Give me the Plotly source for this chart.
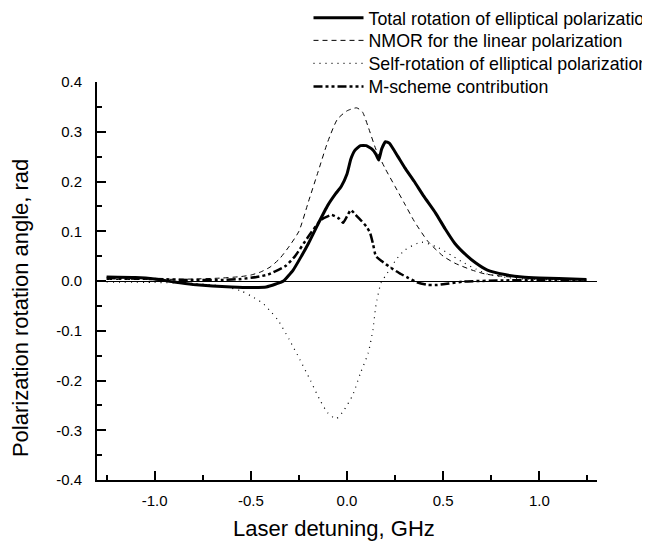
import plotly.graph_objects as go

# ---- data ----
total_x = [-1.25, -1.1, -1.0, -0.9, -0.8, -0.7, -0.6, -0.5, -0.42, -0.37, -0.33, -0.28, -0.24, -0.20,
           -0.15, -0.10, -0.06, -0.03, 0.0, 0.02, 0.04, 0.07, 0.10, 0.13, 0.15, 0.165, 0.18, 0.20,
           0.22, 0.265, 0.30, 0.35, 0.40, 0.46, 0.51, 0.56, 0.62, 0.67, 0.73, 0.82, 0.91, 1.0, 1.1, 1.245]
total_y = [0.008, 0.007, 0.004, -0.002, -0.007, -0.010, -0.012, -0.013, -0.012, -0.006, 0.0, 0.022,
           0.048, 0.076, 0.115, 0.152, 0.175, 0.19, 0.215, 0.245, 0.262, 0.272, 0.272, 0.265, 0.255,
           0.243, 0.265, 0.28, 0.277, 0.25, 0.228, 0.20, 0.17, 0.137, 0.105, 0.076, 0.052, 0.036,
           0.022, 0.013, 0.008, 0.006, 0.005, 0.003]

nmor_x = [-1.25, -1.0, -0.8, -0.65, -0.55, -0.5, -0.45, -0.40, -0.35, -0.30, -0.25, -0.20, -0.15,
          -0.10, -0.05, 0.0, 0.05, 0.08, 0.11, 0.15, 0.20, 0.25, 0.30, 0.35, 0.42, 0.50, 0.56, 0.65,
          0.72, 0.85, 1.0, 1.245]
nmor_y = [0.003, 0.003, 0.004, 0.006, 0.009, 0.012, 0.018, 0.028, 0.045, 0.07, 0.10, 0.16, 0.22,
          0.28, 0.325, 0.342, 0.348, 0.34, 0.31, 0.265, 0.225, 0.19, 0.155, 0.12, 0.08, 0.05, 0.036,
          0.022, 0.014, 0.008, 0.005, 0.003]

self_x = [-1.25, -1.0, -0.8, -0.65, -0.55, -0.50, -0.44, -0.40, -0.36, -0.30, -0.245, -0.19, -0.14,
          -0.10, -0.057, -0.02, 0.03, 0.07, 0.11, 0.135, 0.15, 0.177, 0.21, 0.25, 0.30, 0.385, 0.47,
          0.55, 0.61, 0.67, 0.73, 0.85, 1.0, 1.245]
self_y = [-0.002, -0.003, -0.005, -0.01, -0.02, -0.03, -0.044, -0.06, -0.078, -0.118, -0.158, -0.20,
          -0.24, -0.265, -0.277, -0.262, -0.229, -0.185, -0.145, -0.098, -0.05, -0.004, 0.016, 0.04,
          0.062, 0.078, 0.068, 0.05, 0.036, 0.024, 0.014, 0.006, 0.003, 0.002]

m_x = [-1.25, -1.0, -0.8, -0.65, -0.55, -0.47, -0.41, -0.32, -0.27, -0.20, -0.135, -0.08, -0.04,
       -0.02, 0.0, 0.02, 0.045, 0.07, 0.10, 0.12, 0.135, 0.15, 0.18, 0.23, 0.28, 0.32, 0.36, 0.42,
       0.47, 0.53, 0.61, 0.8, 1.0, 1.245]
m_y = [0.006, 0.004, 0.002, 0.002, 0.004, 0.008, 0.013, 0.03, 0.05, 0.09, 0.123, 0.133, 0.125,
       0.117, 0.13, 0.143, 0.133, 0.123, 0.11, 0.097, 0.075, 0.05, 0.04, 0.026, 0.014, 0.006,
       -0.002, -0.008, -0.008, -0.005, -0.001, 0.001, 0.002, 0.002]

names = ["Total rotation of elliptical polarization",
         "NMOR for the linear polarization",
         "Self-rotation of elliptical polarization",
         "M-scheme contribution"]

x_tickvals = [-1.0, -0.5, 0.0, 0.5, 1.0]
x_ticktext = ["-1.0", "-0.5", "0.0", "0.5", "1.0"]
y_tickvals = [-0.4, -0.3, -0.2, -0.1, 0.0, 0.1, 0.2, 0.3, 0.4]
y_ticktext = ["-0.4", "-0.3", "-0.2", "-0.1", "0.0", "0.1", "0.2", "0.3", "0.4"]
x_title = "Laser detuning, GHz"
y_title = "Polarization rotation angle, rad"

FONT = "Liberation Sans, Arial, sans-serif"
LEG_FONT = 17.8

fig = go.Figure()
fig.add_trace(go.Scatter(x=total_x, y=total_y, mode="lines", name=names[0], legend="legend",
                         line=dict(color="black", width=3, shape="spline", smoothing=0.4)))
fig.add_trace(go.Scatter(x=nmor_x, y=nmor_y, mode="lines", name=names[1], legend="legend2",
                         line=dict(color="black", width=1, dash="5px,4px", shape="spline", smoothing=0.6)))
fig.add_trace(go.Scatter(x=self_x, y=self_y, mode="lines", name=names[2], legend="legend3",
                         line=dict(color="black", width=1.2, dash="1px,5px", shape="spline", smoothing=0.6)))
fig.add_trace(go.Scatter(x=m_x, y=m_y, mode="lines", name=names[3], legend="legend4",
                         line=dict(color="black", width=2.5, dash="9px,3px,3px,3px,3px,3px",
                                   shape="spline", smoothing=0.4)))

axis_common = dict(showline=True, linecolor="black", linewidth=2, mirror=False,
                   ticks="inside", ticklen=9, tickwidth=2, tickcolor="black",
                   showgrid=False, tickfont=dict(size=15, family=FONT))


def leg(ypos):
    return dict(x=0.423, y=ypos, xanchor="left", yanchor="top",
                bgcolor="rgba(0,0,0,0)", font=dict(size=LEG_FONT, family=FONT),
                itemwidth=50, tracegroupgap=0)


fig.update_layout(
    width=650, height=544,
    margin=dict(l=89, r=61, t=74, b=72, autoexpand=False),
    paper_bgcolor="white", plot_bgcolor="white",
    font=dict(family=FONT, size=15, color="black"),
    showlegend=True,
    legend=leg(1.207), legend2=leg(1.150), legend3=leg(1.092), legend4=leg(1.034),
    xaxis=dict(range=[-1.3, 1.3], tickvals=x_tickvals, ticktext=x_ticktext,
               minor=dict(dtick=0.25, tick0=0, ticks="inside", ticklen=5, tickwidth=2, tickcolor="black"),
               zeroline=False, ticklabelstandoff=6, **axis_common),
    yaxis=dict(range=[-0.4, 0.4], tickvals=y_tickvals, ticktext=y_ticktext,
               minor=dict(dtick=0.05, tick0=0, ticks="inside", ticklen=5, tickwidth=2, tickcolor="black"),
               zeroline=True, zerolinecolor="black", zerolinewidth=1.2, ticklabelstandoff=10,
               **axis_common),
    annotations=[
        dict(text=x_title, xref="paper", yref="paper", x=0.474, y=-0.123,
             xanchor="center", yanchor="middle", showarrow=False,
             font=dict(size=22, family=FONT, color="black")),
        dict(text=y_title, xref="paper", yref="paper", x=-0.154, y=0.432,
             xanchor="center", yanchor="middle", textangle=-90, showarrow=False,
             font=dict(size=22, family=FONT, color="black")),
    ],
)

fig.write_html("out.html")
